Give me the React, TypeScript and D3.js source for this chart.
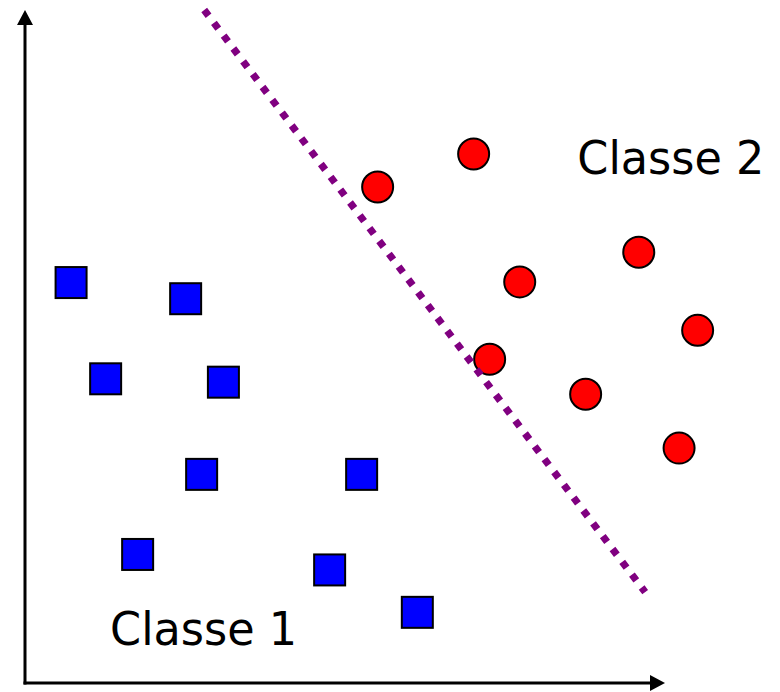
import React from "react";
import * as d3 from "d3";

// Two classes of points in the plane, separated by a linear boundary.
const class1X = [0.72, 2.51, 1.26, 3.10, 2.76, 5.26, 1.76, 4.76, 6.13];
const class1Y = [5.95, 5.71, 4.52, 4.47, 3.10, 3.10, 1.91, 1.68, 1.05];

const class2X = [5.51, 7.01, 9.59, 7.73, 10.51, 7.26, 8.76, 10.22];
const class2Y = [7.37, 7.86, 6.40, 5.96, 5.24, 4.81, 4.29, 3.49];

// Endpoints of the separating line
const boundaryX = [2.80, 9.69];
const boundaryY = [10.0, 1.35];

const classLabels = ["Classe 1", "Classe 2"];
const labelX = [1.33, 8.63];
const labelY = [0.56, 7.56];

const W = 780;
const H = 692;

export default function App() {
  const x = d3.scaleLinear().domain([0, 10]).range([25, 665]);
  const y = d3.scaleLinear().domain([0, 10]).range([683, 10]);

  const sq = 31;
  const r = 15.5;
  const ah = 15; // arrowhead length
  const aw = 8; // arrowhead half width

  const x0 = x(0);
  const y0 = y(0);
  const xEnd = x(10);
  const yEnd = y(10);

  const line = d3.line<[number, number]>().x((d) => x(d[0])).y((d) => y(d[1]));
  const boundary: [number, number][] = boundaryX.map((v, i) => [v, boundaryY[i]]);

  const fontFamily = "Tahoma, 'DejaVu Sans', Verdana, sans-serif";

  return (
    <svg
      width={W}
      height={H}
      style={{ position: "absolute", left: 0, top: 0, background: "#fff" }}
    >
      {/* axes */}
      <g>
        <line x1={x0} y1={y0 + 1.5} x2={x0} y2={yEnd + ah - 1} stroke="#000" strokeWidth={3} />
        <path
          d={`M${x0},${yEnd} L${x0 - aw},${yEnd + ah} L${x0 + aw},${yEnd + ah} Z`}
          fill="#000"
        />
        <line x1={x0 - 1.5} y1={y0} x2={xEnd - ah + 1} y2={y0} stroke="#000" strokeWidth={3} />
        <path
          d={`M${xEnd},${y0} L${xEnd - ah},${y0 - aw} L${xEnd - ah},${y0 + aw} Z`}
          fill="#000"
        />
      </g>

      {/* class 1 */}
      <g>
        {class1X.map((v, i) => (
          <rect
            key={`s${i}`}
            x={x(v) - sq / 2}
            y={y(class1Y[i]) - sq / 2}
            width={sq}
            height={sq}
            fill="#0000ff"
            stroke="#000"
            strokeWidth={2}
          />
        ))}
      </g>

      {/* class 2 */}
      <g>
        {class2X.map((v, i) => (
          <circle
            key={`c${i}`}
            cx={x(v)}
            cy={y(class2Y[i])}
            r={r}
            fill="#ff0000"
            stroke="#000"
            strokeWidth={2}
          />
        ))}
      </g>

      {/* separating line */}
      <path
        d={line(boundary) || ""}
        fill="none"
        stroke="#800080"
        strokeWidth={7.2}
        strokeDasharray="7.2 8.9"
      />

      {/* class labels */}
      {classLabels.map((t, i) => (
        <text
          key={t}
          x={x(labelX[i])}
          y={y(labelY[i])}
          fontFamily={fontFamily}
          fontSize={47}
          fill="#000"
          textLength={187}
          lengthAdjust="spacingAndGlyphs"
        >
          {t}
        </text>
      ))}
    </svg>
  );
}
